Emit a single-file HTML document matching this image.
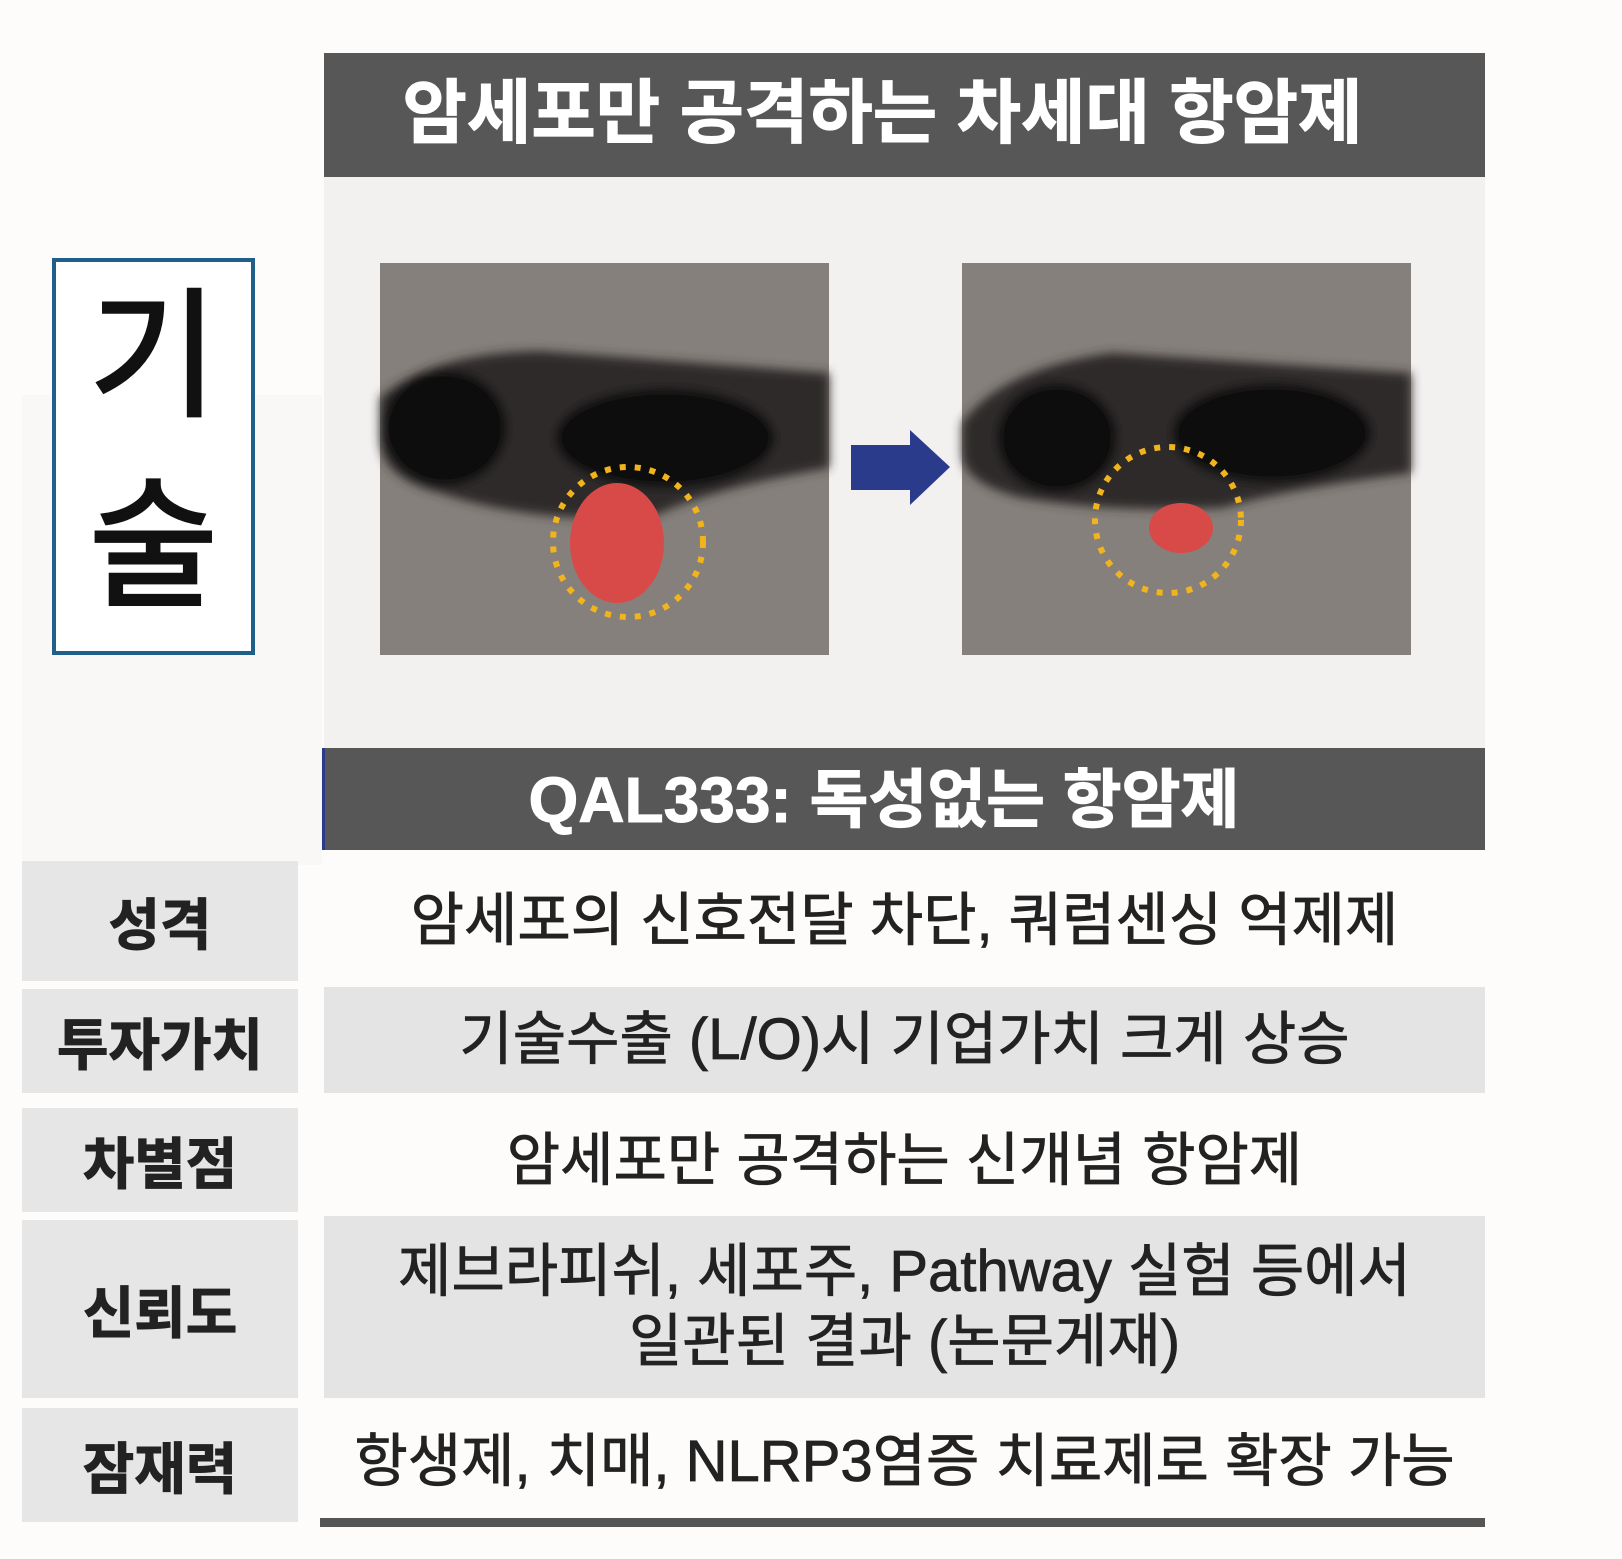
<!DOCTYPE html>
<html><head><meta charset="utf-8"><style>
body{margin:0;width:1622px;height:1559px;background:#fdfcfb;position:relative;overflow:hidden;font-family:"Liberation Sans","Noto Sans CJK KR",sans-serif;}
.a{position:absolute;}
.hd{background:#575757;color:#fff;font-weight:bold;text-align:center;white-space:nowrap;box-sizing:border-box;}
.lab{position:absolute;left:22px;width:276px;background:#e6e6e6;font-weight:bold;font-size:56px;color:#222;display:flex;align-items:center;justify-content:center;-webkit-text-stroke:1px #222;}
.row{position:absolute;left:324px;width:1161px;font-size:58px;color:#222;display:flex;align-items:center;justify-content:center;text-align:center;line-height:70px;-webkit-text-stroke:0.8px #222;white-space:nowrap;}
.g{background:#e4e4e4;}
</style></head><body>
<div class="a" style="left:22px;top:395px;width:300px;height:470px;background:#f9f8f7"></div>
<div class="a hd" style="left:324px;top:53px;width:1161px;height:124px;line-height:120px;font-size:70px;-webkit-text-stroke:1px #fff;padding-right:44px;">암세포만 공격하는 차세대 항암제</div>
<div class="a" style="left:324px;top:177px;width:1161px;height:571px;background:#f2f1f0"></div>
<div class="a" style="left:52px;top:258px;width:195px;height:389px;border:4px solid #1f5f8a;background:#fff;font-size:140px;line-height:190px;text-align:center;color:#111;-webkit-text-stroke:3px #111;">기<br>술</div>
<svg class="a" style="left:0;top:0" width="1622" height="800">
 <defs><filter id="b"><feGaussianBlur stdDeviation="5"/></filter></defs>
 <g transform="translate(380,263)">
  <rect width="449" height="392" fill="#85807b"/>
  <g filter="url(#b)">
   <path d="M0,135 Q50,90 160,88 L449,110 L449,205 Q330,225 270,255 Q150,260 60,230 Q0,215 0,175Z" fill="#2e2c2a"/>
   <ellipse cx="65" cy="165" rx="62" ry="58" fill="#0d0c0c"/>
   <ellipse cx="285" cy="175" rx="110" ry="50" fill="#111"/>
  </g>
  <ellipse cx="237" cy="280" rx="47" ry="60" fill="#d84a48"/>
  <circle cx="248" cy="279" r="75" fill="none" stroke="#f2b41c" stroke-width="6" stroke-dasharray="6 9"/>
 </g>
 <polygon points="851,445 910,445 910,430 950,467 910,505 910,490 851,490" fill="#2b3b8c"/>
 <g transform="translate(962,263)">
  <rect width="449" height="392" fill="#85807b"/>
  <g filter="url(#b)">
   <path d="M0,160 Q40,105 150,90 L449,110 L449,210 Q330,225 260,245 Q150,250 60,235 Q0,220 0,190Z" fill="#2e2c2a"/>
   <ellipse cx="95" cy="175" rx="60" ry="55" fill="#0d0c0c"/>
   <ellipse cx="310" cy="170" rx="100" ry="50" fill="#111"/>
  </g>
  <ellipse cx="219" cy="265" rx="32" ry="25" fill="#d84a48"/>
  <circle cx="206" cy="257" r="73" fill="none" stroke="#f2b41c" stroke-width="6" stroke-dasharray="6 9"/>
 </g>
</svg>
<div class="a hd" style="left:322px;top:748px;width:1163px;height:102px;line-height:104px;font-size:64px;border-left:3px solid #2b3b8c;-webkit-text-stroke:1px #fff;padding-right:42px;">QAL333: 독성없는 항암제</div>
<div class="lab" style="top:861px;height:120px;">성격</div>
<div class="lab" style="top:989px;height:104px;">투자가치</div>
<div class="lab" style="top:1108px;height:104px;">차별점</div>
<div class="lab" style="top:1220px;height:178px;">신뢰도</div>
<div class="lab" style="top:1408px;height:114px;">잠재력</div>
<div class="row" style="top:866px;height:110px;">암세포의 신호전달 차단, 쿼럼센싱 억제제</div>
<div class="row g" style="top:987px;height:106px;">기술수출 (L/O)시 기업가치 크게 상승</div>
<div class="row" style="top:1108px;height:106px;">암세포만 공격하는 신개념 항암제</div>
<div class="row g" style="top:1216px;height:182px;">제브라피쉬, 세포주, Pathway 실험 등에서<br>일관된 결과 (논문게재)</div>
<div class="row" style="top:1408px;height:108px;">항생제, 치매, NLRP3염증 치료제로 확장 가능</div>
<div class="a" style="left:320px;top:1518px;width:1165px;height:9px;background:#555"></div>
</body></html>
